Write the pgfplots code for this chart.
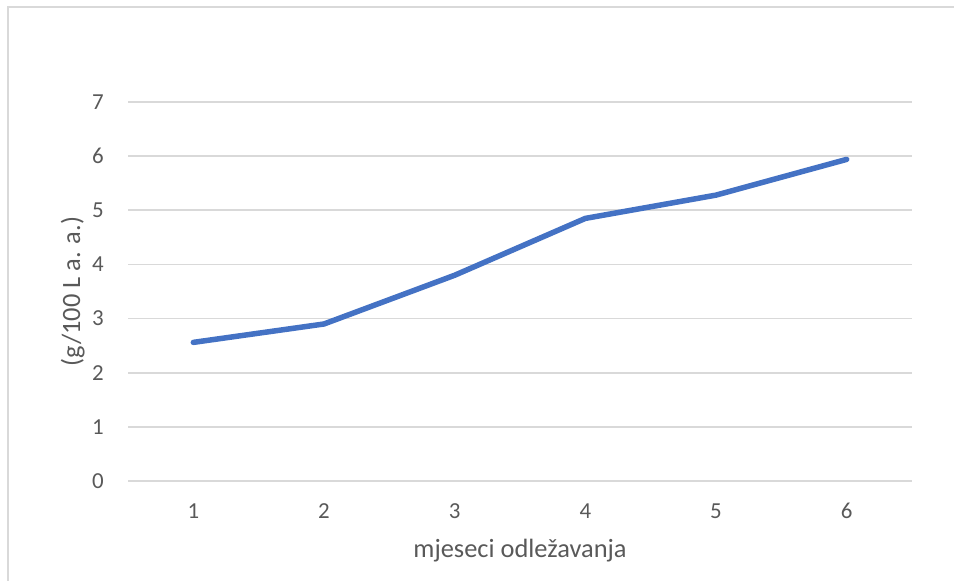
\documentclass[border=0pt]{standalone}
\usepackage{pgfplots}
\pgfplotsset{compat=1.18}
\usepackage{fontspec}
\setmainfont{Carlito}
\definecolor{excelblue}{HTML}{4472C4}
\definecolor{gridgray}{HTML}{D9D9D9}
\definecolor{txtgray}{HTML}{595959}
\begin{document}
\begin{tikzpicture}[x=1bp,y=1bp]
\path[use as bounding box] (0,0) rectangle (954,581);
\draw[gridgray, line width=1.5bp] (8,0) -- (8,574) -- (954,574);
\begin{axis}[
  at={(128bp,100bp)}, anchor=south west,
  scale only axis, width=784bp, height=379bp,
  xmin=0.5, xmax=6.5, ymin=0, ymax=7,
  xtick={1,...,6}, ytick={0,...,7},
  axis line style={draw=none},
  major tick length=0pt,
  ymajorgrids, grid style={gridgray, line width=1.8bp},
  tick label style={font=\fontsize{23}{27}\selectfont, text=txtgray, inner sep=0pt},
  /pgf/number format/assume math mode=true,
  yticklabel style={anchor=east, xshift=-24bp},
  xticklabel style={anchor=base, yshift=-38bp},
  xlabel={mjeseci odležavanja},
  ylabel={(g/100 L a. a.)},
  label style={font=\fontsize{26.5}{30}\selectfont, text=txtgray, inner sep=0pt},
  xlabel style={at={(axis description cs:0.5,0)}, anchor=base, yshift=-77bp},
  ylabel style={at={(axis description cs:-0.0612,0.5)}, anchor=base},
]
\addplot[excelblue, line width=5.5bp, line join=round, line cap=round] coordinates {
(1,2.56) (2,2.90) (3,3.80) (4,4.85) (5,5.28) (6,5.94)
};
\end{axis}
\end{tikzpicture}
\end{document}
